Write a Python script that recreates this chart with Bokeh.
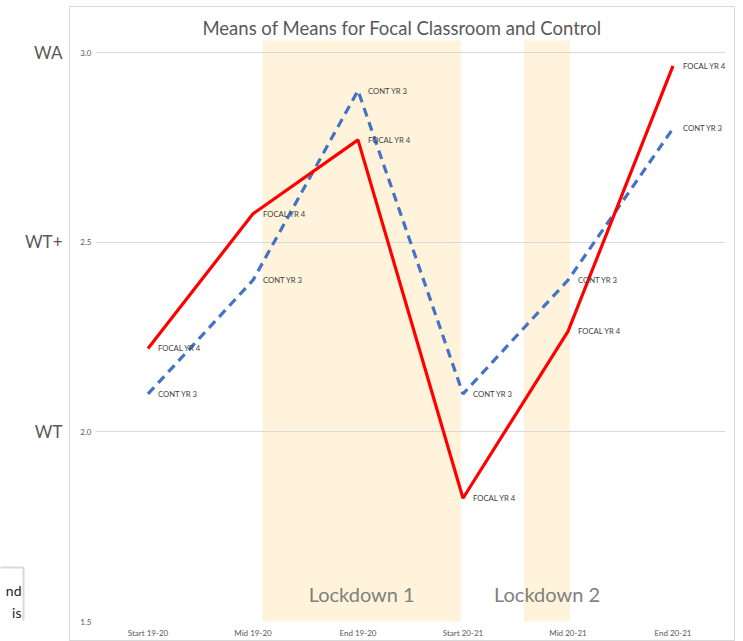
from bokeh.plotting import figure
from bokeh.models import FactorRange, Range1d, FixedTicker, Spacer
from bokeh.layouts import row, column
from bokeh.core.properties import value
from bokeh.embed import file_html
from bokeh.resources import INLINE

# ---- data ----
periods = ["Start 19-20", "Mid 19-20", "End 19-20", "Start 20-21", "Mid 20-21", "End 20-21"]
focal_yr4 = [2.22, 2.575, 2.77, 1.825, 2.265, 2.965]
cont_yr3 = [2.10, 2.40, 2.90, 2.10, 2.40, 2.80]
focal_name = "FOCAL YR 4"
cont_name = "CONT YR 3"
y_ticks = [1.5, 2.0, 2.5, 3.0]
level_ticks = [2.0, 2.5, 3.0]
level_labels = ["WT", "WT+", "WA"]
lockdown_names = ["Lockdown 1", "Lockdown 2"]
lockdown_start = [1.59, 4.08]   # in category units
lockdown_end = [3.48, 4.52]
title_text = "Means of Means for Focal Classroom and Control"

FONT = "Lato"
GRAY = "#595959"

TOP_OFF = 7
SPACER = 6
H = 641
BOTTOM = 21
Y_END = 3.119
SHADE_TOP = 3.032
y_rng = Range1d(1.5, Y_END)

# ---- main chart ----
p = figure(x_range=FactorRange(factors=periods), y_range=y_rng,
           width=666, height=H - SPACER, output_backend="svg", toolbar_location=None,
           min_border_left=25, min_border_right=11, min_border_top=0,
           min_border_bottom=BOTTOM)
p.outline_line_color = None
p.background_fill_color = "white"
p.border_fill_color = "white"
p.styles = {"border": "1px solid #D9D9D9", "box-sizing": "border-box"}

# shaded lockdown bands
p.quad(left=lockdown_start, right=lockdown_end, bottom=1.5, top=SHADE_TOP,
       fill_color="#FFF4DB", line_color=None, level="underlay")

# lockdown labels
p.text(x=[(s + e) / 2 for s, e in zip(lockdown_start, lockdown_end)],
       y=[1.572] * len(lockdown_names), text=lockdown_names,
       text_align="center", text_baseline="middle", text_font=value(FONT),
       text_font_size="20px", text_color="#808080")

# lines
p.line(periods, cont_yr3, line_color="#4472C4", line_width=3.2, line_dash="9 6")
p.line(periods, focal_yr4, line_color="#FF0000", line_width=3.2)

# point labels
p.text(periods, focal_yr4, text=[focal_name] * len(periods), x_offset=10,
       text_font=value(FONT), text_font_size="7.7px", text_color="#404040",
       text_baseline="middle")
p.text(periods, cont_yr3, text=[cont_name] * len(periods), x_offset=10,
       text_font=value(FONT), text_font_size="7.7px", text_color="#404040",
       text_baseline="middle")

# title
p.text(x=[2.92], y=[3.064], text=[title_text], text_align="center",
       text_baseline="middle", text_font=value(FONT), text_font_size="18.5px",
       text_color=GRAY)

# axes
p.xgrid.grid_line_color = None
p.ygrid.grid_line_color = "#D9D9D9"
p.ygrid.ticker = FixedTicker(ticks=y_ticks)
p.yaxis.ticker = FixedTicker(ticks=y_ticks)
p.yaxis.major_label_overrides = {t: f"{t:.1f}" for t in y_ticks}
for ax in (p.xaxis[0], p.yaxis[0]):
    ax.axis_line_color = None
    ax.major_tick_line_color = None
    ax.minor_tick_line_color = None
    ax.major_tick_out = 0
    ax.major_tick_in = 0
    ax.minor_tick_out = 0
    ax.major_label_text_font = FONT
    ax.major_label_text_font_size = "8px"
    ax.major_label_text_color = GRAY
p.xaxis.major_label_standoff = 6
p.yaxis.major_label_standoff = 4

# ---- left strip with level names ----
left = figure(x_range=Range1d(0, 69), y_range=y_rng, width=69, height=H,
              output_backend="svg", toolbar_location=None,
              min_border_left=0, min_border_right=0, min_border_top=TOP_OFF,
              min_border_bottom=BOTTOM)
left.axis.visible = False
left.grid.visible = False
left.outline_line_color = None
left.text(x=[62] * len(level_ticks), y=level_ticks, text=level_labels,
          text_align="right", text_baseline="middle", text_font=value(FONT),
          text_font_size="17px", text_color=GRAY)
# partial cropped text box at bottom-left
left.quad(left=-5, right=23, bottom=1.0, top=1.64, fill_color="white",
          line_color="#D9D9D9", line_width=2)
left.text(x=[21, 21], y=[1.58, 1.522], text=["nd", "is"], text_align="right",
          text_baseline="middle", text_font=value(FONT), text_font_size="14px",
          text_color="#262626")

layout = row(left, column(Spacer(height=SPACER, width=666), p, spacing=0), spacing=0)
open("out.html", "w").write(file_html(layout, INLINE))
